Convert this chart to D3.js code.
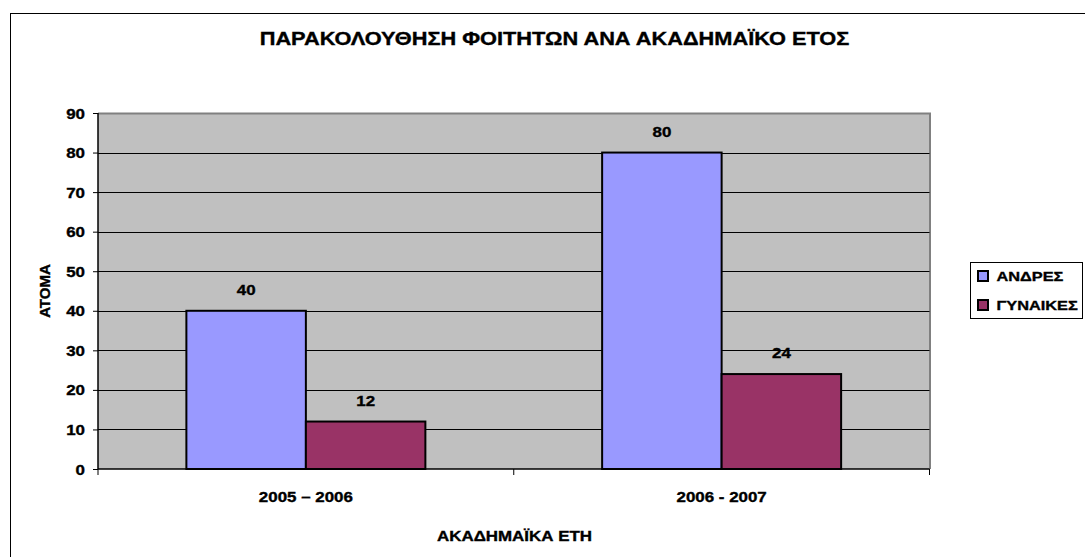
<!DOCTYPE html>
<html><head><meta charset="utf-8">
<script src="https://cdn.jsdelivr.net/npm/d3@7"></script>
<style>body{margin:0;background:#fff}svg{display:block}text{font-family:"Liberation Sans",Arial,sans-serif;font-weight:bold;fill:#000;stroke:#000;stroke-width:0.35px}</style>
</head><body>
<svg id="c" width="1085" height="557"></svg>
<script>
const categories = ["2005 – 2006", "2006 - 2007"];
const seriesNames = ["ΑΝΔΡΕΣ", "ΓΥΝΑΙΚΕΣ"];
const andres = [40, 80];
const gynaikes = [12, 24];
const yTicks = [0,10,20,30,40,50,60,70,80,90];
const colors = ["#9999FF", "#993366"];
const title = "ΠΑΡΑΚΟΛΟΥΘΗΣΗ ΦΟΙΤΗΤΩΝ ΑΝΑ ΑΚΑΔΗΜΑΪΚΟ ΕΤΟΣ";
const xTitle = "ΑΚΑΔΗΜΑΪΚΑ ΕΤΗ";
const yTitle = "ΑΤΟΜΑ";

const SX = 1.21;
const svg = d3.select("#c");
const L = 98, R = 929.5, T = 113, B = 469;

function addText(parent, x, y, txt, size, anchor) {
  return parent.append("text").attr("transform", `translate(${x},${y}) scale(${SX},1)`)
    .attr("text-anchor", anchor || "middle").style("font-size", size + "px").text(txt);
}

svg.append("rect").attr("x",10.5).attr("y",13.5).attr("width",1090).attr("height",560)
  .attr("fill","#fff").attr("stroke","#000").attr("stroke-width",1);

const x0 = d3.scaleBand().domain(categories).range([L,R]);
const barW = 119.5;
const y = d3.scaleLinear().domain([0,90]).range([B,T]);

// plot area
svg.append("rect").attr("x",L).attr("y",T).attr("width",R-L).attr("height",B-T).attr("fill","#C0C0C0");
svg.append("path").attr("d",`M${L},${T+0.5}H${R+0.5}V${B}`).attr("fill","none").attr("stroke","#808080").attr("stroke-width",2);

// gridlines
svg.append("g").selectAll("line").data(yTicks.filter(d=>d>0&&d<90)).join("line")
  .attr("x1",L).attr("x2",R).attr("y1",d=>Math.round(y(d))+0.5).attr("y2",d=>Math.round(y(d))+0.5)
  .attr("stroke","#000").attr("stroke-width",1);

// bars
const data = [];
categories.forEach((c,i)=>{ data.push({c, s:0, v:andres[i]}); data.push({c, s:1, v:gynaikes[i]}); });
const bx = d => x0(d.c) + x0.bandwidth()/2 + (d.s===0 ? -barW : 0);
svg.append("g").selectAll("rect").data(data).join("rect")
  .attr("x",bx).attr("y",d=>y(d.v)).attr("width",barW).attr("height",d=>B-y(d.v))
  .attr("fill",d=>colors[d.s]).attr("stroke","#000").attr("stroke-width",2);
const vl = svg.append("g");
data.forEach(d => addText(vl, bx(d)+barW/2, y(d.v)-16, d.v, 14, "middle"));

// y axis
const ya = svg.append("g").attr("transform",`translate(${L},0)`)
  .call(d3.axisLeft(y).tickValues(yTicks).tickSize(5));
ya.select(".domain").attr("stroke","#000").attr("stroke-width",1.5).attr("d",`M0,${T}V${B}`);
ya.selectAll(".tick line").attr("stroke","#000");
ya.selectAll(".tick text").style("font-size","14px").style("font-family","Liberation Sans").style("font-weight","bold")
  .attr("fill","#000").attr("x",-13/SX).attr("dy","0.36em").attr("transform",`scale(${SX},1)`);

// x axis
const xa = svg.append("g").attr("transform",`translate(0,${B})`)
  .call(d3.axisBottom(x0).tickSize(0));
xa.select(".domain").attr("stroke","#000").attr("stroke-width",1.5).attr("d",`M${L},0H${R}`);
xa.selectAll(".tick text").style("font-size","14px").style("font-family","Liberation Sans").style("font-weight","bold")
  .attr("fill","#000").attr("y",33).attr("dy",0).attr("transform",`scale(${SX},1)`);
const xTickPos = [L, L + x0.step(), R];
svg.append("g").selectAll("line").data(xTickPos).join("line")
  .attr("x1",d=>d).attr("x2",d=>d).attr("y1",B).attr("y2",B+6).attr("stroke","#000");

// titles
addText(svg, 554.5, 45, title, 18, "middle");
addText(svg, 514.5, 541, xTitle, 14, "middle");
svg.append("text").attr("transform","translate(50,291) rotate(-90)").attr("text-anchor","middle").style("font-size","15px").text(yTitle);

// legend
svg.append("rect").attr("x",970.5).attr("y",262.5).attr("width",112).attr("height",56).attr("fill","#fff").attr("stroke","#000");
const lg = svg.append("g").selectAll("g").data(seriesNames).join("g")
  .attr("transform",(d,i)=>`translate(978,${271+i*29})`);
lg.append("rect").attr("width",10).attr("height",10).attr("fill",(d,i)=>colors[i]).attr("stroke","#000").attr("stroke-width",2);
lg.each(function(d){ addText(d3.select(this), 18.5, 9.7, d, 13.5, "start"); });
</script>
</body></html>
